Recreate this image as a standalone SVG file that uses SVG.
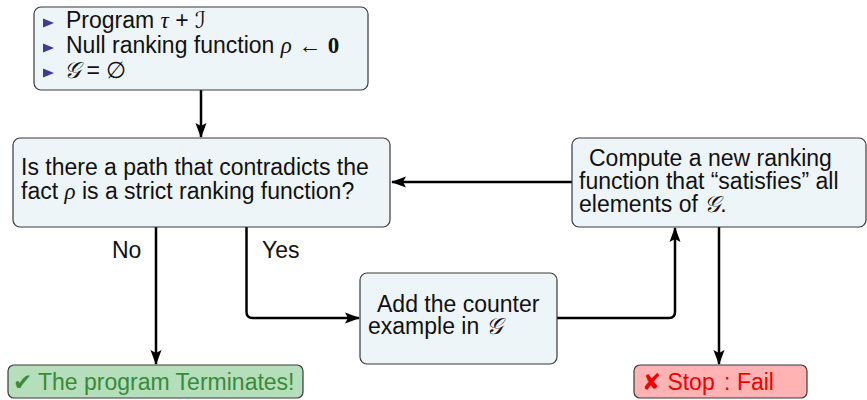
<svg xmlns="http://www.w3.org/2000/svg" width="867" height="400" viewBox="0 0 867 400">
<style>
.box{fill:#eef5f9;stroke:#3a3a3a;stroke-width:1.2}
.ok{fill:#b4dfba;stroke:#3a3a3a;stroke-width:1.2}
.ko{fill:#ffb3b3;stroke:#3a3a3a;stroke-width:1.2}
.t{font-family:"Liberation Sans",Arial,sans-serif;font-size:23px;fill:#111}
.m{font-family:"Liberation Serif","DejaVu Serif",serif;font-style:italic}
.s{font-family:"DejaVu Serif","DejaVu Sans",serif;font-style:italic}
.b{font-family:"Liberation Serif",serif;font-weight:bold}
.bul{fill:#3c3c96}
.edge{fill:none;stroke:#000;stroke-width:2.5;stroke-linejoin:round}
</style>
<defs>
<marker id="ah" markerUnits="userSpaceOnUse" markerWidth="15" markerHeight="12" refX="14" refY="6" orient="auto">
<path d="M0,0.5 L15,6 L0,11.5 L3,6 z" fill="#000"/>
</marker>
</defs>

<g id="connectors">
<path class="edge" d="M201,90 V137" marker-end="url(#ah)"/>
<path class="edge" d="M572,182 H392" marker-end="url(#ah)"/>
<path class="edge" d="M246.5,227 V312 Q246.5,318 252.5,318 H359" marker-end="url(#ah)"/>
<path class="edge" d="M557,318 H669 Q675,318 675,312 V228" marker-end="url(#ah)"/>
<path class="edge" d="M156,227 V364" marker-end="url(#ah)"/>
<path class="edge" d="M719,227 V364" marker-end="url(#ah)"/>
<text class="t" x="112" y="258">No</text>
<text class="t" x="262" y="258">Yes</text>
</g>

<g id="init">
<rect class="box" x="34" y="7" width="334" height="83" rx="7"/>
<polygon class="bul" points="43,18.5 54,23 43,27.5"/>
<polygon class="bul" points="43,43.5 54,48 43,52.5"/>
<polygon class="bul" points="43,68.5 54,73 43,77.5"/>
<text class="t" x="66" y="28">Program <tspan class="m">τ</tspan> + <tspan class="s">ℐ</tspan></text>
<text class="t" x="66" y="53">Null ranking function <tspan class="m">ρ</tspan> ← <tspan class="b">0</tspan></text>
<text class="t" x="64" y="78"><tspan class="s">𝒢</tspan> = ∅</text>
</g>

<g id="question">
<rect class="box" x="13" y="138" width="377" height="89" rx="7"/>
<text class="t" x="21" y="175">Is there a path that contradicts the</text>
<text class="t" x="21" y="199">fact <tspan class="m">ρ</tspan> is a strict ranking function?</text>
</g>

<g id="compute">
<rect class="box" x="572" y="138" width="294" height="89" rx="7"/>
<text class="t" x="589" y="166">Compute a new ranking</text>
<text class="t" x="579" y="189">function that “satisfies” all</text>
<text class="t" x="579" y="212">elements of <tspan class="s">𝒢</tspan>.</text>
</g>

<g id="add">
<rect class="box" x="360" y="273" width="197" height="91" rx="7"/>
<text class="t" x="377" y="312">Add the counter</text>
<text class="t" x="368" y="334">example in <tspan class="s">𝒢</tspan></text>
</g>

<g id="terminates">
<rect class="ok" x="8" y="365" width="295" height="33" rx="6"/>
<text class="t" x="13" y="390" style="fill:#3a8a3a">✔ The program Terminates!</text>
</g>

<g id="fail">
<rect class="ko" x="634" y="365" width="173" height="33" rx="6"/>
<text class="t" x="642" y="390" style="fill:#f00000">✘ Stop <tspan dx="3">:</tspan> Fail</text>
</g>
</svg>
